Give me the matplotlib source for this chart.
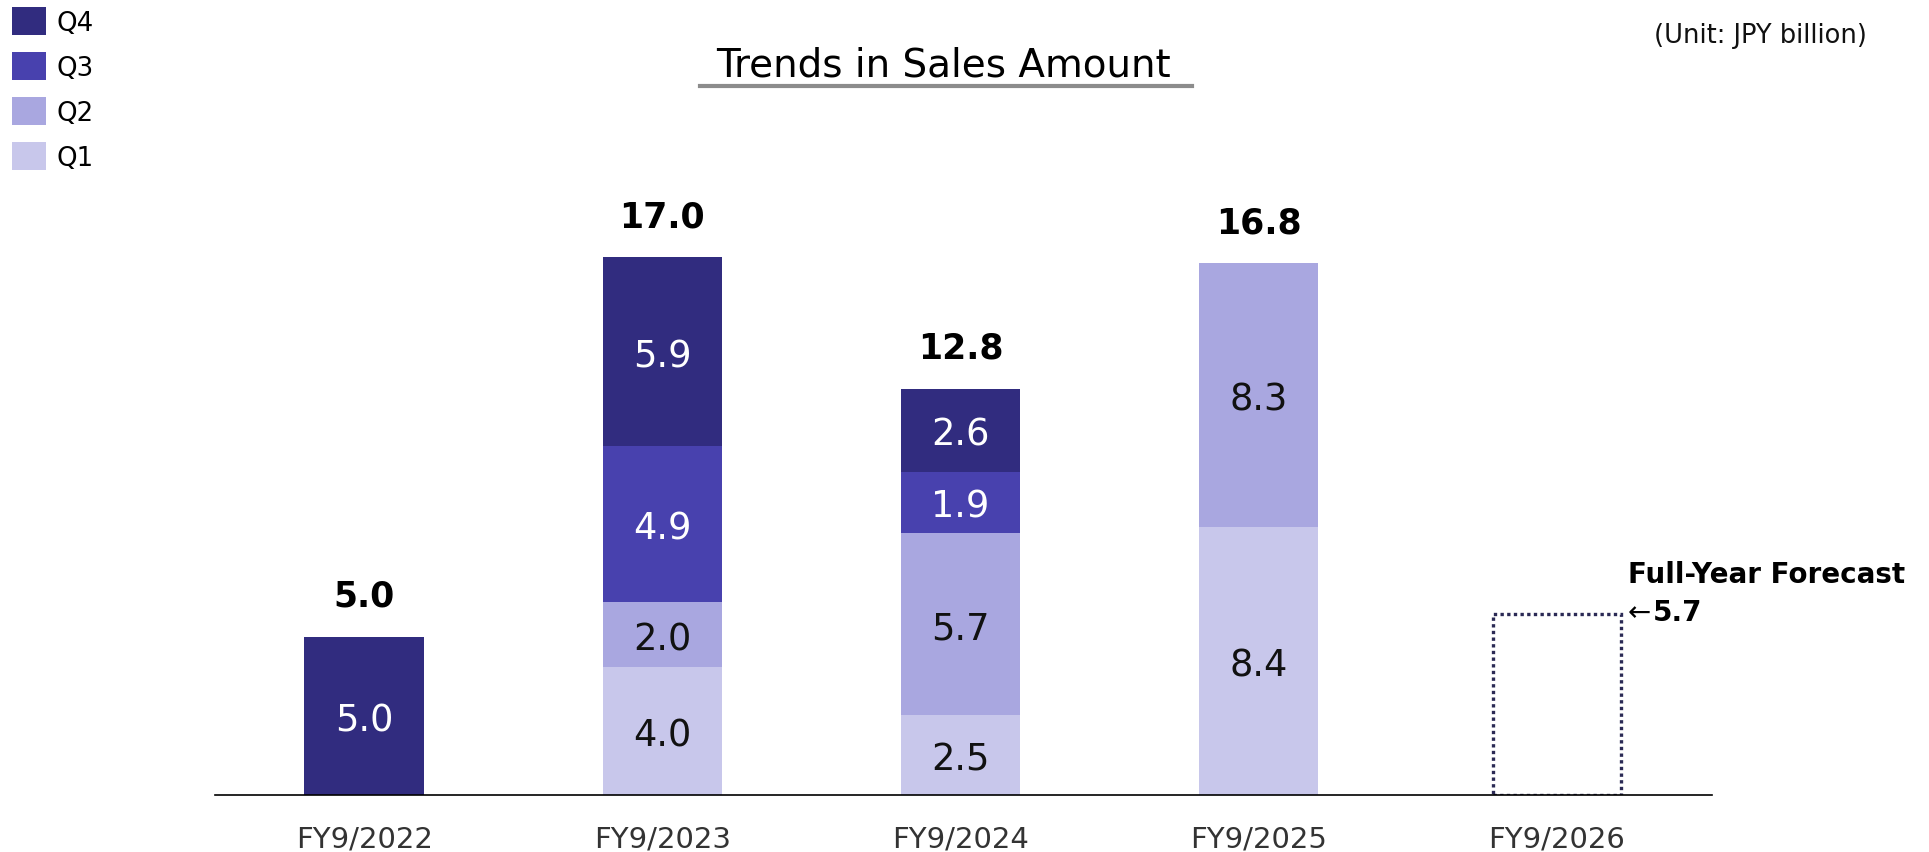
import numpy as np
import matplotlib
matplotlib.use("Agg")
import matplotlib.pyplot as plt
from matplotlib.lines import Line2D

# data (JPY billion)
years = ["FY9/2022", "FY9/2023", "FY9/2024", "FY9/2025", "FY9/2026"]
q1 = [0.0, 4.04, 2.52, 8.44, 0.0]
q2 = [0.0, 2.04, 5.74, 8.34, 0.0]
q3 = [0.0, 4.94, 1.94, 0.0, 0.0]
q4 = [5.0, 5.94, 2.61, 0.0, 0.0]
forecast = 5.7  # FY9/2026 full-year forecast

quarters = ["Q1", "Q2", "Q3", "Q4"]
colors = ["#C8C7EB", "#A9A7E0", "#4841AE", "#312C7F"]
txt_colors = ["#111111", "#111111", "white", "white"]

W, H = 1929, 853
fig = plt.figure(figsize=(W / 100, H / 100), dpi=100)
ax = fig.add_axes([215 / W, (H - 796) / H, 1497 / W, 696 / H])

x = np.arange(len(years))
bw = 0.40
bottom = np.zeros(len(years))
handles = []
for vals, c, tc, name in zip([q1, q2, q3, q4], colors, txt_colors, quarters):
    vals = np.array(vals)
    b = ax.bar(x, vals, bw, bottom=bottom, color=c, label=name, linewidth=0)
    handles.append(b)
    for xi, v, b0 in zip(x, vals, bottom):
        if v > 0:
            ax.text(xi, b0 + v / 2, "%.1f" % v, ha="center", va="center_baseline",
                    fontsize=26.5, color=tc)
    bottom = bottom + vals

# totals on top
for xi, tot in zip(x, bottom):
    if tot > 0:
        ax.annotate("%.1f" % tot, (xi, tot), xytext=(0, 29.5), textcoords="offset points",
                    ha="center", va="center", fontsize=25, fontweight="bold", color="black")

# forecast box
fw = 0.43
ax.bar(x[-1], forecast, fw, fill=False, edgecolor="#2B2A55", linestyle=(0, (1, 1)),
       linewidth=2.4)
ax.annotate("\u2190", (x[-1] + fw / 2, forecast), xytext=(5, 4), textcoords="offset points",
            ha="left", va="center_baseline", fontsize=20, color="black", annotation_clip=False)
ax.annotate("%.1f" % forecast, (x[-1] + fw / 2, forecast), xytext=(23, 4),
            textcoords="offset points", ha="left", va="center_baseline", fontsize=20,
            fontweight="bold", color="black", annotation_clip=False)
ax.annotate("Full-Year Forecast", (x[-1] + fw / 2, forecast), xytext=(5, 31),
            textcoords="offset points", ha="left", va="center_baseline", fontsize=20,
            fontweight="bold", color="black", annotation_clip=False)

ax.set_xlim(-0.5, 4.52)
ax.set_ylim(0, 696 / 31.7)
ax.set_xticks(x, years)
ax.tick_params(axis="x", length=0, pad=21.5, labelsize=21, labelcolor="#333333")
ax.set_yticks([])
for s in ["top", "right", "left"]:
    ax.spines[s].set_visible(False)
ax.spines["bottom"].set_linewidth(1.2)
ax.spines["bottom"].set_color("black")

# title with underline
fig.text(943 / W, 1 - 61.5 / H, "Trends in Sales Amount", ha="center", va="center_baseline",
         fontsize=28, color="black")
fig.add_artist(Line2D([700 / W, 1192 / W], [1 - 87 / H, 1 - 87 / H], transform=fig.transFigure,
                      color="#8C8C8C", linewidth=3))

fig.text(1867 / W, 1 - 33 / H, "(Unit: JPY billion)", ha="right", va="center_baseline",
         fontsize=18.5, color="#111111")

# legend: Q4 on top
fig.legend(handles[::-1], quarters[::-1], loc="upper left", bbox_to_anchor=(12 / W, 1 - 8 / H),
           frameon=False, fontsize=18.7, handlelength=1.3, handleheight=1.3,
           handletextpad=0.42, labelspacing=0.62, borderpad=0, borderaxespad=0)

plt.savefig("out.png", dpi=100)
